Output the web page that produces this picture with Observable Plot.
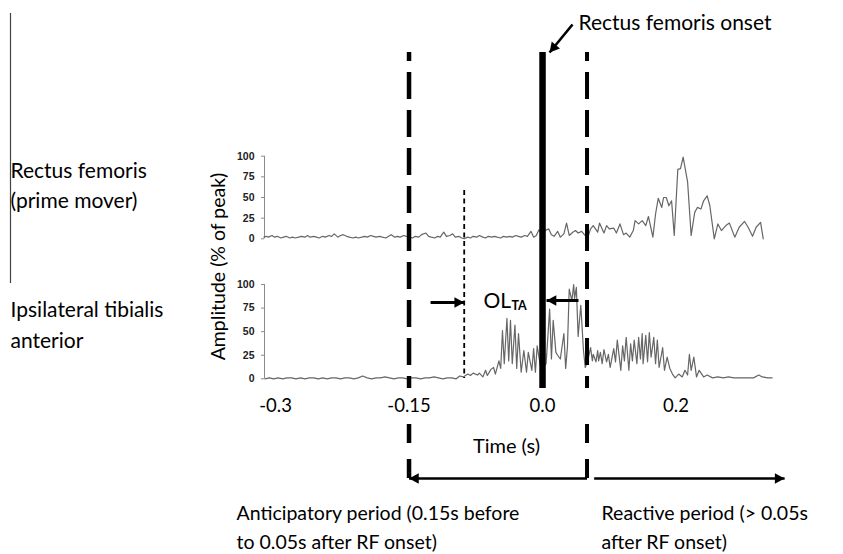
<!DOCTYPE html>
<html>
<head>
<meta charset="utf-8">
<script src="https://cdn.jsdelivr.net/npm/d3@7"></script>
<script src="https://cdn.jsdelivr.net/npm/@observablehq/plot@0.6"></script>
<style>
  html, body { margin: 0; padding: 0; background: #fff; }
  #chart { width: 843px; height: 554px; background: #fff; }
  #chart svg { display: block; }
</style>
</head>
<body>
<div id="chart"></div>
<script>
// ---------- data (time in ms relative to rectus femoris onset, amplitude in % of peak) ----------
const rfTime = [
  -313,-310,-308,-304,-301,-298,-294,-291,-288,-284,
  -281,-278,-274,-271,-267,-264,-261,-257,-254,-251,
  -247,-244,-240,-237,-234,-230,-227,-224,-220,-217,
  -213,-210,-207,-203,-200,-197,-193,-190,-187,-183,
  -180,-176,-173,-170,-166,-163,-160,-156,-153,-149,
  -146,-143,-139,-136,-131,-128,-125,-121,-118,-115,
  -111,-108,-104,-101,-98,-94,-91,-88,-84,-81,
  -78,-74,-71,-67,-64,-61,-57,-54,-51,-47,
  -44,-40,-37,-34,-30,-27,-24,-20,-17,-13,
  -10,-7,-4,-1,3,7,10,13,17,20,
  24,27,30,34,37,40,44,47,51,54,
  57,62,64,69,72,75,80,83,87,91,
  94,98,102,104,108,112,116,119,124,127,
  130,134,136,139,142,145,148,152,155,158,
  163,167,171,174,178,181,185,188,193,197,
  201,206,210,216,221,227,231,236,240,245,
  248
];
const rfAmp = [
  2,3,2,4,2,3,1,2,3,1,
  2,1,2,3,2,4,2,3,2,1,
  3,2,4,3,6,2,4,5,3,2,
  1,2,1,2,3,2,4,3,2,3,
  2,1,3,5,2,3,2,4,3,2,
  1,3,2,5,7,3,2,1,3,2,
  8,3,4,6,2,3,1,0,2,1,
  3,2,4,2,1,3,2,3,2,1,
  3,2,3,2,4,3,2,4,3,9,
  2,4,11,6,10,12,5,3,9,2,
  6,19,4,8,10,7,9,5,2,12,
  16,8,19,7,16,12,13,7,18,5,
  7,2,10,22,18,22,16,27,2,30,
  49,38,50,50,40,46,4,84,85,99,
  69,4,32,38,36,46,52,40,0,18,
  10,16,19,2,14,21,14,3,14,20,
  0
];
const taTime = [
  -312,-307,-302,-297,-292,-287,-282,-277,-272,-267,
  -262,-257,-252,-247,-242,-237,-232,-227,-222,-217,
  -212,-207,-202,-197,-192,-187,-182,-177,-172,-167,
  -162,-157,-152,-147,-142,-137,-132,-127,-122,-117,
  -112,-107,-102,-97,-93,-89,-84,-81,-78,-73,
  -71,-67,-64,-62,-58,-55,-53,-49,-47,-45,
  -43,-40,-38,-36,-34,-31,-29,-27,-24,-21,
  -18,-16,-12,-10,-8,-6,-2,4,8,10,
  12,15,17,20,24,26,28,30,33,35,
  36,38,40,43,46,48,51,54,56,57,
  60,62,63,65,67,69,72,74,76,80,
  82,84,88,90,92,94,97,99,101,103,
  106,108,110,112,113,116,118,120,122,125,
  127,129,131,135,137,140,143,146,149,153,
  157,160,163,165,167,170,173,176,181,185,
  191,197,203,209,215,222,230,237,243,247,
  253,258
];
const taAmp = [
  0,1,0,1,0,1,1,0,1,0,
  1,1,0,1,0,1,1,0,1,1,
  0,1,3,1,0,1,1,2,1,0,
  1,1,0,1,1,0,1,1,2,1,
  0,1,1,0,3,2,5,3.5,6,4,
  6,2,9,3.5,10,12,5,19,11,51,
  16,64,19,62,16,57,11,48,7,30,
  7,28,9,32,7,35,11,16,74,21,
  62,28,25,21,48,11,34,95,83,100,
  85,97,45,78,30,12,20,33,19,26,
  18,30,19,28,16,31,18,26,12,32,
  18,41,9,35,19,44,9,37,19,41,
  16,44,21,48,16,46,18,49,23,44,
  16,41,12,33,9,23,11,5,1,5,
  2,9,4,26,9,23,2,9,2,4,
  1,2,1,2,1,1,1,1,4,2,
  1,1
];
const xTicks = [-300, -150, 0, 150];
const xTickLabels = ["-0.3", "-0.15", "0.0", "0.2"];
const yTicks = [0, 25, 50, 75, 100];
const periodStart = -150;   // anticipatory period start (ms)
const taOnset = -88;        // tibialis anterior onset (ms)
const rfOnset = 0;          // rectus femoris onset (ms)
const periodEnd = 50;       // end of anticipatory period (ms)

const muscleLabels = ["Rectus femoris", "(prime mover)", "Ipsilateral tibialis", "anterior"];
const yLabel = "Amplitude (% of peak)";
const xLabel = "Time (s)";
const onsetLabel = "Rectus femoris onset";
const periodLabels = ["Anticipatory period (0.15s before", "to 0.05s after RF onset)",
                      "Reactive period (> 0.05s", "after RF onset)"];

// ---------- layout ----------
const W = 843, H = 554;
const X_DOMAIN = [-312.4, 258.4];
const X_RANGE = [264, 772];
const FONT = "Lato, 'Open Sans', sans-serif";
const rf = rfTime.map((t, i) => ({t, v: rfAmp[i]}));
const ta = taTime.map((t, i) => ({t, v: taAmp[i]}));

function panel(data, top, bottom, withXAxis) {
  return Plot.plot({
    width: W, height: H,
    marginLeft: X_RANGE[0], marginRight: W - X_RANGE[1],
    marginTop: top, marginBottom: H - bottom,
    style: {fontFamily: FONT, background: "transparent"},
    x: {domain: X_DOMAIN, axis: null},
    y: {domain: [0, 100], axis: null},
    marks: [
      Plot.ruleX([X_DOMAIN[0]], {stroke: "#8a8a8a", strokeWidth: 1}),
      Plot.axisY({ticks: yTicks, tickSize: 3, tickPadding: 7, label: null,
        stroke: "#8a8a8a", fill: "#222", fontSize: 10.5, fontWeight: "bold",
        fontFamily: "'Liberation Sans', Arial, sans-serif"}),
      withXAxis ? Plot.axisX({ticks: xTicks, tickFormat: d => xTickLabels[xTicks.indexOf(d)],
        tickSize: 0, tickPadding: 20, label: null, fontSize: 18.5, fill: "#000", fontFamily: FONT}) : null,
      Plot.line(data, {x: "t", y: "v", stroke: "#666", strokeWidth: 1.2})
    ]
  });
}

// arrow head symbol: tip at origin, pointing up
const arrowHead = {
  draw(context, size) {
    const l = Math.sqrt(size);
    const w = l * 0.55;
    context.moveTo(0, 0);
    context.lineTo(-w, l);
    context.lineTo(w, l);
    context.closePath();
  }
};

const arrows = [
  {x1: 33.7, y1: 24, x2: 7.9, y2: 52, rotate: -140, sw: 2.6},
  {x1: -125.8, y1: 302, x2: taOnset, y2: 302, rotate: 90, sw: 3},
  {x1: 40.4, y1: 300, x2: 4.5, y2: 300, rotate: -90, sw: 3},
  {x1: periodEnd, y1: 478, x2: periodStart, y2: 478, rotate: -90, sw: 2.6},
  {x1: 58, y1: 478, x2: 272, y2: 478, rotate: 90, sw: 2.6}
];

// period boundary lines: dashed over the panels, short solid pieces below the tick labels
const boundaryDashed = [periodStart, periodEnd].map((x, i) => ({x, y1: 52, y2: 388, sw: i ? 4 : 4.5}));
const boundaryLower = [periodStart, periodEnd].flatMap((x, i) =>
  [{x, y1: 424, y2: 443, sw: i ? 4 : 4.5}, {x, y1: 459, y2: 478, sw: i ? 4 : 4.5}]);

const root = Plot.plot({
  width: W, height: H, margin: 0,
  style: {fontFamily: FONT, background: "#fff"},
  x: {domain: X_DOMAIN, range: X_RANGE, axis: null},
  y: {domain: [0, H], range: [0, H], axis: null},
  marks: [
    Plot.ruleX(boundaryDashed, {x: "x", y1: "y1", y2: "y2", stroke: "#000", strokeWidth: "sw", strokeDasharray: "27,11", strokeDashoffset: 18}),
    Plot.ruleX(boundaryLower, {x: "x", y1: "y1", y2: "y2", stroke: "#000", strokeWidth: "sw"}),
    Plot.ruleX([taOnset], {y1: 190, y2: 378, stroke: "#000", strokeWidth: 1.8, strokeDasharray: "5,3.5"}),
    Plot.ruleX([rfOnset], {y1: 52, y2: 388, stroke: "#000", strokeWidth: 6.5}),
    Plot.link(arrows, {x1: "x1", y1: "y1", x2: "x2", y2: "y2", stroke: "#000", strokeWidth: "sw"}),
    Plot.dot(arrows, {x: "x2", y: "y2", symbol: arrowHead, r: 5.5, rotate: "rotate", fill: "#000", stroke: null})
  ]
});

const textLayer = Plot.plot({
  width: W, height: H, margin: 0,
  style: {fontFamily: FONT, background: "transparent"},
  x: {type: "identity"},
  y: {type: "identity"},
  marks: [
    Plot.ruleX([10], {y1: 13, y2: 283, stroke: "#444", strokeWidth: 1.2}),
    Plot.text([muscleLabels[0]], {x: 10, y: 171, text: d => d, textAnchor: "start", fontSize: 21, fill: "#000"}),
    Plot.text([muscleLabels[1]], {x: 10, y: 201, text: d => d, textAnchor: "start", fontSize: 21, fill: "#000"}),
    Plot.text([muscleLabels[2]], {x: 10, y: 310, text: d => d, textAnchor: "start", fontSize: 21, fill: "#000"}),
    Plot.text([muscleLabels[3]], {x: 10, y: 341, text: d => d, textAnchor: "start", fontSize: 21, fill: "#000"}),
    Plot.text([onsetLabel], {x: 578, y: 23, text: d => d, textAnchor: "start", fontSize: 21, fill: "#000"}),
    Plot.text(["OL"], {x: 483, y: 301, text: d => d, textAnchor: "start", fontSize: 21, fill: "#000"}),
    Plot.text(["TA"], {x: 511, y: 305, text: d => d, textAnchor: "start", fontSize: 12.5, fontWeight: "bold", fill: "#000"}),
    Plot.text([yLabel], {x: 218, y: 266, text: d => d, rotate: -90, fontSize: 19.5, fill: "#000"}),
    Plot.text([xLabel], {x: 506, y: 446, text: d => d, fontSize: 20, fill: "#000"}),
    Plot.text([periodLabels[0]], {x: 236, y: 513, text: d => d, textAnchor: "start", fontSize: 19.5, fill: "#000"}),
    Plot.text([periodLabels[1]], {x: 236, y: 542, text: d => d, textAnchor: "start", fontSize: 19.5, fill: "#000"}),
    Plot.text([periodLabels[2]], {x: 601, y: 513, text: d => d, textAnchor: "start", fontSize: 19.5, fill: "#000"}),
    Plot.text([periodLabels[3]], {x: 601, y: 542, text: d => d, textAnchor: "start", fontSize: 19.5, fill: "#000"})
  ]
});

// compose into a single SVG: traces underneath, annotations, then texts on top
const upper = panel(rf, 155.7, 238.3, false);
const lower = panel(ta, 284, 378.3, true);
for (const s of [upper, lower, textLayer]) {
  s.setAttribute("x", 0); s.setAttribute("y", 0);
  s.querySelectorAll("style").forEach(el => el.remove());
}
const firstMark = root.querySelector("g");
root.insertBefore(lower, firstMark);
root.insertBefore(upper, lower);
root.appendChild(textLayer);
document.getElementById("chart").appendChild(root);
</script>
</body>
</html>
